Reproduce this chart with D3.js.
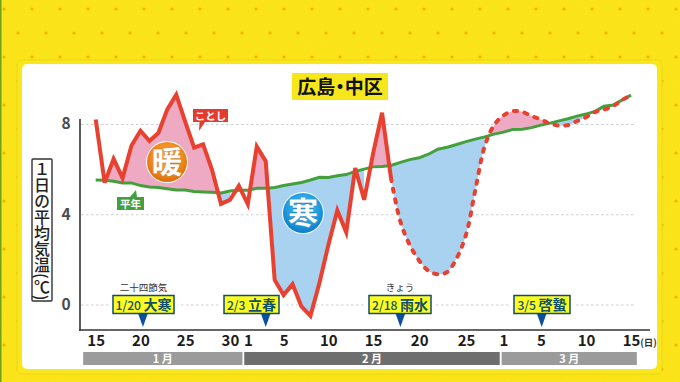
<!DOCTYPE html>
<html>
<head>
<meta charset="utf-8">
<script src="https://cdn.jsdelivr.net/npm/d3@7"></script>
<style>
  html, body { margin: 0; padding: 0; background: #fbe216; }
  svg { display: block; }
  text { font-family: "Noto Sans CJK JP", "Noto Sans", sans-serif; }
</style>
</head>
<body>
<svg id="chart" width="680" height="382"></svg>
<script>
// index 0 = 1/15, one entry per day
const normal = [5.52, 5.51, 5.46, 5.39, 5.39, 5.27, 5.21, 5.19, 5.13, 5.07, 5.07, 5.01, 4.99, 4.97, 4.94,
  5.03, 5.06, 5.06, 5.15, 5.15, 5.19, 5.27, 5.34, 5.41, 5.52, 5.64, 5.63, 5.71, 5.76, 5.9, 6.0, 6.1, 6.12, 6.16,
  6.3, 6.42, 6.5, 6.66, 6.88, 6.97, 7.09, 7.22, 7.33, 7.43, 7.55, 7.64, 7.76, 7.77, 7.84, 7.95, 8.04, 8.14,
  8.23, 8.35, 8.44, 8.56, 8.79, 8.84, 9.06, 9.28];
const actual = [8.2, 5.4, 6.45, 5.6, 7.05, 7.7, 7.25, 7.6, 8.65, 9.3, 8.1, 6.95, 7.1, 5.97, 4.46, 4.64, 5.26,
  4.45, 7.0, 6.35, 1.09, 0.42, 0.9, -0.1, -0.5, 0.95, 2.64, 4.17, 3.2, 6.05, 4.64, 6.7, 8.5, 5.6];
// forecast starts where actual stops
const forecastStart = 33;
const forecast = [5.6, 3.68, 2.64, 1.95, 1.49, 1.34, 1.44, 2.05, 3.09, 5.09, 7.02, 7.95, 8.38, 8.57, 8.54,
  8.35, 8.2, 8.02, 7.93, 7.95, 8.13, 8.3, 8.53, 8.64, 8.79, 9.06, 9.28];
// days the original leaves unfilled on the cold side
const coldGaps = [0, 16, 17, 31];

const yTicks = [0, 4, 8];
const dayTicks = [0, 5, 10, 15, 17, 21, 26, 31, 36, 41, 45, 49, 54, 59];
const dayLabels = ['15', '20', '25', '30', '1', '5', '10', '15', '20', '25', '1', '5', '10', '15'];
const monthNames = ['1 月', '2 月', '3 月'];
const monthStart = [-1.4, 16.6, 44.8];
const monthEnd = [16.4, 44.6, 59.65];
const markerDay = [5, 19, 34, 49];
const markerDate = ['1/20', '2/3', '2/18', '3/5'];
const markerName = ['大寒', '立春', '雨水', '啓蟄'];
const markerNote = ['二十四節気', '', 'きょう', ''];

const svg = d3.select('#chart');
const defs = svg.append('defs');

// the picture is not quite even in time, so the day scale has a few knots
const x = d3.scaleLinear().domain([0, 33, 49, 59]).range([95.7, 391, 541, 631]);
const y = d3.scaleLinear().domain([0, 8]).range([304.5, 124]);
const axisY = 330;

// background
let dots = defs.append('pattern').attr('id', 'dots').attr('patternUnits', 'userSpaceOnUse')
  .attr('x', 4).attr('y', 9).attr('width', 28).attr('height', 48);
[[0, 0], [28, 0], [0, 48], [28, 48], [14, 24]].forEach(function(p){
  dots.append('circle').attr('cx', p[0]).attr('cy', p[1]).attr('r', 1.6).attr('fill', '#efb400');
});

let noise = defs.append('filter').attr('id', 'noise').attr('x', 0).attr('y', 0).attr('width', '100%').attr('height', '100%');
noise.append('feTurbulence').attr('type', 'fractalNoise').attr('baseFrequency', 0.7).attr('numOctaves', 2).attr('seed', 3);
noise.append('feColorMatrix').attr('values', '0 0 0 0 0.85  0 0 0 0 0.65  0 0 0 0 0  0 0 0 1.1 -0.35');

svg.append('rect').attr('width', 680).attr('height', 382).attr('fill', '#fbe41a');
svg.append('rect').attr('width', 680).attr('height', 382).attr('filter', 'url(#noise)').attr('opacity', 0.18);
svg.append('rect').attr('width', 680).attr('height', 382).attr('fill', 'url(#dots)');
svg.append('rect').attr('width', 1.5).attr('height', 382).attr('fill', '#6fa01e');

svg.append('rect').attr('x', 17).attr('y', 60).attr('width', 645).attr('height', 314)
  .attr('rx', 5).attr('fill', '#f8e71c').attr('stroke', '#e8cf10').attr('stroke-width', 0.6);
svg.append('rect').attr('x', 22).attr('y', 64).attr('width', 635).attr('height', 305)
  .attr('rx', 5).attr('fill', '#ffffff');

// title
svg.append('rect').attr('x', 292).attr('y', 73).attr('width', 96).attr('height', 27).attr('rx', 1).attr('fill', '#f6e71c');
svg.append('text').attr('x', 340).attr('y', 93.5).attr('text-anchor', 'middle')
  .attr('font-size', 19).attr('font-weight', 700).attr('fill', '#111')
  .style('font-feature-settings', '"palt"').text('広島・中区');

// grid, through the y axis
let grid = svg.append('g').attr('transform', 'translate(81,0)')
  .call(d3.axisLeft(y).tickValues(yTicks).tickSize(-554).tickFormat(''));
grid.select('.domain').remove();
grid.selectAll('line').attr('stroke', '#cfcfcf').attr('stroke-width', 1).attr('stroke-dasharray', '2.5 2.5');

// fills: same band drawn twice, clipped above / below the normal line
let bandClip = (id, edge) => defs.append('clipPath').attr('id', id).append('path')
  .attr('d', d3.area().x((d, i) => x(i)).y0(edge).y1(d => y(d))(normal));
bandClip('above', 0);
bandClip('below', 382);

let actualArea = d3.area().x((d, i) => x(i)).y0((d, i) => y(normal[i])).y1(d => y(d));
let forecastArea = d3.area().curve(d3.curveCatmullRom.alpha(0.5))
  .x((d, i) => x(forecastStart + i)).y0((d, i) => y(normal[forecastStart + i])).y1(d => y(d));

let warm = svg.append('g').attr('clip-path', 'url(#above)').attr('fill', '#eeaac2');
warm.append('path').attr('d', actualArea.defined((d, i) => i > 0)(actual));
warm.append('path').attr('d', forecastArea(forecast));
let cold = svg.append('g').attr('clip-path', 'url(#below)').attr('fill', '#a9d1f0');
cold.append('path').attr('d', actualArea.defined((d, i) => !coldGaps.includes(i))(actual));
cold.append('path').attr('d', forecastArea(forecast));

// lines
svg.append('path').attr('fill', 'none').attr('stroke', '#43a03c').attr('stroke-width', 3)
  .attr('d', d3.line().x((d, i) => x(i)).y(d => y(d))(normal));
svg.append('path').attr('fill', 'none').attr('stroke', '#e8412f').attr('stroke-width', 4).attr('stroke-linejoin', 'miter')
  .attr('d', d3.line().x((d, i) => x(i)).y(d => y(d))(actual));
svg.append('path').attr('fill', 'none').attr('stroke', '#e8412f').attr('stroke-width', 4)
  .attr('stroke-linecap', 'round').attr('stroke-dasharray', '3.2 7.6')
  .attr('d', d3.line().curve(d3.curveCatmullRom.alpha(0.5)).x((d, i) => x(forecastStart + i)).y(d => y(d))(forecast));

// axes
svg.append('line').attr('x1', 80).attr('x2', 80).attr('y1', 119).attr('y2', axisY + 0.8).attr('stroke', '#333').attr('stroke-width', 1.6);
svg.append('line').attr('x1', 79).attr('x2', 650).attr('y1', axisY).attr('y2', axisY).attr('stroke', '#333').attr('stroke-width', 1.6);

let yAxis = svg.append('g').attr('transform', 'translate(72,0)')
  .call(d3.axisLeft(y).tickValues(yTicks).tickSize(0).tickPadding(0));
yAxis.select('.domain').remove();
yAxis.selectAll('text').attr('font-size', 15.5).attr('font-weight', 700).attr('fill', '#4a4a4a')
  .attr('font-family', '"Noto Sans CJK JP"').attr('text-anchor', 'middle').attr('dx', -6);

let xAxis = svg.append('g').attr('transform', 'translate(0,' + axisY + ')')
  .call(d3.axisBottom(x).tickValues(dayTicks).tickSize(0).tickPadding(5).tickFormat((d, i) => dayLabels[i]));
xAxis.select('.domain').remove();
xAxis.selectAll('text').attr('font-size', 15).attr('font-weight', 700).attr('fill', '#1c1c1c')
  .attr('font-family', '"Noto Sans CJK JP"');
svg.append('text').attr('x', 648.5).attr('y', 345.5).attr('text-anchor', 'middle').attr('font-size', 9.5)
  .attr('font-weight', 700).attr('fill', '#333').text('(日)');

// month bars
monthNames.forEach(function(m, i){
  svg.append('rect').attr('x', x(monthStart[i])).attr('y', 352).attr('width', x(monthEnd[i]) - x(monthStart[i])).attr('height', 13)
    .attr('fill', i == 1 ? '#6e6e6e' : '#9b9b9b');
  svg.append('text').attr('x', (x(monthStart[i]) + x(monthEnd[i])) / 2).attr('y', 363).attr('text-anchor', 'middle')
    .attr('font-size', 11).attr('font-weight', 700).attr('fill', '#fff').text(m);
});

// y label
svg.append('rect').attr('x', 32).attr('y', 159).attr('width', 20).attr('height', 142).attr('rx', 1)
  .attr('fill', '#fff').attr('stroke', '#333').attr('stroke-width', 1.4);
svg.append('text').attr('x', 42).attr('y', 161).attr('font-size', 16).attr('font-weight', 500).attr('fill', '#222')
  .style('writing-mode', 'vertical-rl').text('１日の平均気温(℃)');

// callouts
svg.append('path').attr('fill', '#e33b2e').attr('d', 'M193,109H228V122H205L199,131L199.5,122H193Z');
svg.append('text').attr('x', 210.5).attr('y', 119.5).attr('text-anchor', 'middle').attr('font-size', 10.5)
  .attr('font-weight', 700).attr('fill', '#fff').text('ことし');
svg.append('path').attr('fill', '#43a03c').attr('d', 'M117,197H130L136,190L137,197H144V210H117Z');
svg.append('text').attr('x', 130.5).attr('y', 208).attr('text-anchor', 'middle').attr('font-size', 10.5)
  .attr('font-weight', 700).attr('fill', '#fff').text('平年');

// badges
function badge(cx, cy, label, id, c0, c1, c2, edge){
  let grad = defs.append('radialGradient').attr('id', id).attr('cx', '50%').attr('cy', '38%').attr('r', '65%');
  grad.append('stop').attr('offset', '0%').attr('stop-color', c0);
  grad.append('stop').attr('offset', '60%').attr('stop-color', c1);
  grad.append('stop').attr('offset', '100%').attr('stop-color', c2);
  svg.append('circle').attr('cx', cx).attr('cy', cy).attr('r', 21).attr('fill', '#fff');
  svg.append('circle').attr('cx', cx).attr('cy', cy).attr('r', 20).attr('fill', 'url(#' + id + ')');
  svg.append('text').attr('x', cx).attr('y', cy + 11).attr('text-anchor', 'middle').attr('font-size', 31)
    .attr('font-weight', 900).attr('fill', '#fff').attr('stroke', edge).attr('stroke-width', 0.4).text(label);
}
badge(167, 162, '暖', 'warmGrad', '#fbb040', '#f08a1c', '#d96a05', '#c96a10');
badge(303, 213, '寒', 'coldGrad', '#5cc4f2', '#1f9ee0', '#0a78c8', '#0f78b8');

// 二十四節気 markers
let boxCenter = [143.5, 251.5, 400, 542];
let boxWidth = [61, 55, 62, 56];
let tipShift = [2.5, 0, 0, 0.7];
markerDay.forEach(function(d, i){
  let tip = x(d) + tipShift[i];
  let left = boxCenter[i] - boxWidth[i] / 2;
  // clears the 0 grid line either side of the box
  svg.append('rect').attr('x', left - 4).attr('y', 300).attr('width', boxWidth[i] + 8).attr('height', 9).attr('fill', '#fff');
  svg.append('path').attr('fill', '#0b4f9e').attr('d', d3.line()([[tip - 5, 313], [tip + 5, 313], [tip, 327]]) + 'Z');
  svg.append('rect').attr('x', left).attr('y', 295.5).attr('width', boxWidth[i]).attr('height', 18)
    .attr('fill', '#ffff1e').attr('stroke', '#0f4a78').attr('stroke-width', 1.5);
  let t = svg.append('text').attr('x', boxCenter[i]).attr('y', 309.5).attr('text-anchor', 'middle')
    .attr('fill', '#124f68').attr('font-weight', 700);
  t.append('tspan').attr('font-size', 12.2).attr('font-weight', 500).text(markerDate[i]);
  t.append('tspan').attr('font-size', 14).attr('dx', 2.5).text(markerName[i]);
  if(markerNote[i]){
    svg.append('text').attr('x', boxCenter[i]).attr('y', 291).attr('text-anchor', 'middle')
      .attr('font-size', 9.5).attr('fill', '#333').text(markerNote[i]);
  }
});
</script>
</body>
</html>
